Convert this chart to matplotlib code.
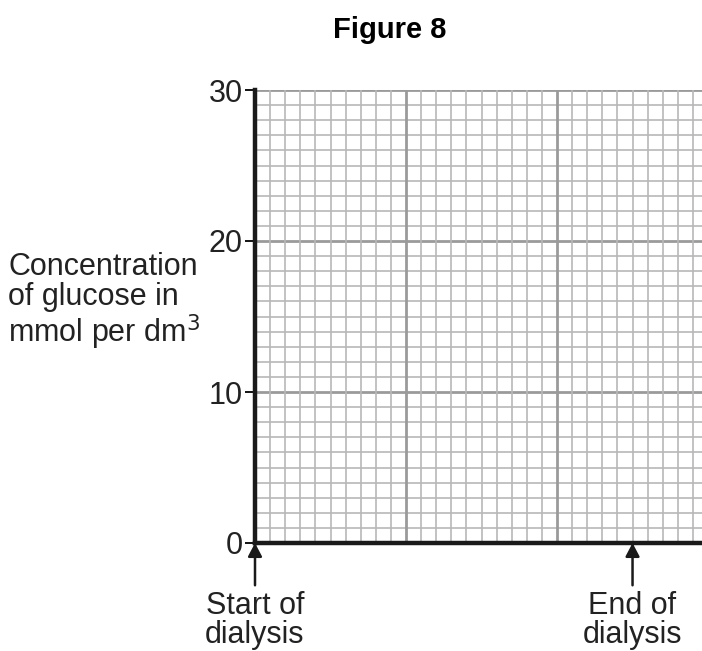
import numpy as np
import matplotlib.pyplot as plt

plt.rcParams['font.family'] = ['Liberation Sans', 'DejaVu Sans']

# データ
y_ticks = [0, 10, 20, 30]
x_max = 29.6
arrow_x = [0, 25]
arrow_labels = ["Start of\ndialysis", "End of\ndialysis"]
y_label = "Concentration\nof glucose in\nmmol per dm$^{3}$"
title = "Figure 8"

fig = plt.figure(figsize=(7.02, 6.51), dpi=100)
ax = fig.add_axes([255 / 702, 108 / 651, 447 / 702, 453 / 651])
ax.set_xlim(0, x_max)
ax.set_ylim(0, 30)

# 方眼紙のグリッド
for v in np.arange(1, 30):
    major = v % 10 == 0
    ax.axhline(v, color='#9a9a9a' if major else '#b8b8b8',
               lw=2.0 if major else 1.2, zorder=1)
ax.axhline(30, color='#9a9a9a', lw=2.0, zorder=1)
for v in np.arange(1, int(x_max) + 1):
    major = v % 10 == 0
    ax.axvline(v, color='#9a9a9a' if major else '#b8b8b8',
               lw=2.0 if major else 1.2, zorder=1)

for s in ['top', 'right']:
    ax.spines[s].set_visible(False)
for s in ['left', 'bottom']:
    ax.spines[s].set_linewidth(3.2)
    ax.spines[s].set_color('#1a1a1a')
    ax.spines[s].set_zorder(3)

ax.set_yticks(y_ticks)
ax.set_yticklabels([str(t) for t in y_ticks], fontsize=22, color='#222222')
ax.tick_params(axis='y', direction='out', length=7, width=1.3, pad=2)
ax.set_xticks([])

fig.text(390 / 702, 1 - 30 / 651, title, fontsize=21, fontweight='bold',
         ha='center', va='center')
fig.text(8 / 702, 1 - 302 / 651, y_label, fontsize=22, ha='left',
         va='center', linespacing=1.0, color='#222222')

# 矢印とラベル
for x, lab in zip(arrow_x, arrow_labels):
    ax.annotate("", xy=(x, 0), xytext=(x, -2.8), annotation_clip=False,
                arrowprops=dict(arrowstyle='-|>,head_length=0.8,head_width=0.42',
                                color='#1a1a1a', lw=1.8, shrinkA=0, shrinkB=0))
    ax.text(x, -3.2, lab, fontsize=22, ha='center', va='top',
            linespacing=0.95, color='#222222', clip_on=False)

fig.savefig("out.png", dpi=100)
